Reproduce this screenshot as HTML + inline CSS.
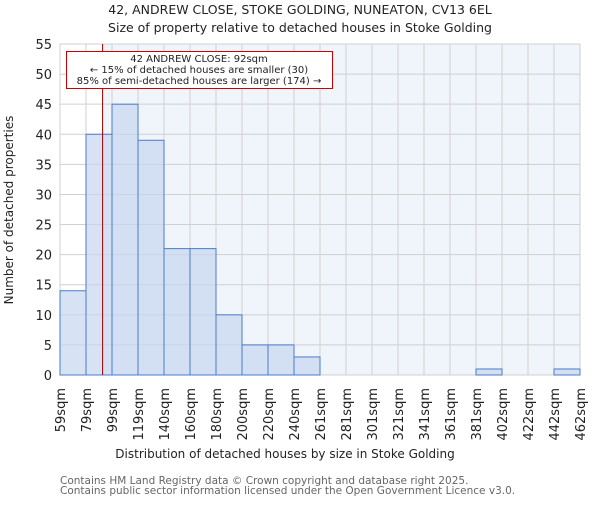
<!DOCTYPE html>
<html><head><meta charset="utf-8"><style>
body{margin:0;background:#fff;}
svg text{font-family:"DejaVu Sans","Liberation Sans",sans-serif;fill:#222;}
</style></head><body>
<svg id="chart" width="600" height="500" xmlns="http://www.w3.org/2000/svg">
<text x="300" y="14" text-anchor="middle" font-size="12.5">42, ANDREW CLOSE, STOKE GOLDING, NUNEATON, CV13 6EL</text>
<text x="300" y="32" text-anchor="middle" font-size="12.5">Size of property relative to detached houses in Stoke Golding</text>
<g id="plot"></g>
<text x="285" y="458" text-anchor="middle" font-size="12">Distribution of detached houses by size in Stoke Golding</text>
<text transform="translate(13,210) rotate(-90)" text-anchor="middle" font-size="12">Number of detached properties</text>
<text x="60" y="484" font-size="10.5" style="fill:#666">Contains HM Land Registry data © Crown copyright and database right 2025.</text>
<text x="60" y="494" font-size="10.5" style="fill:#666">Contains public sector information licensed under the Open Government Licence v3.0.</text>
</svg>
<script>
const binLabels=["59sqm","79sqm","99sqm","119sqm","140sqm","160sqm","180sqm","200sqm","220sqm","240sqm","261sqm","281sqm","301sqm","321sqm","341sqm","361sqm","381sqm","402sqm","422sqm","442sqm","462sqm"];
const counts=[14,40,45,39,21,21,10,5,5,3,0,0,0,0,0,0,1,0,0,1];
const yTicks=[0,5,10,15,20,25,30,35,40,45,50,55];
const propertySize=92;
const binStart=59, binWidth=20.15;
const X0=60,X1=580,Y0=375,Y1=44,YMAX=55;
const xi=i=>X0+(X1-X0)*i/counts.length;
const xv=v=>xi((v-binStart)/binWidth);
const y=v=>Y0-(Y0-Y1)*v/YMAX;
const g=document.getElementById('plot');
const NS='http://www.w3.org/2000/svg';
function mk(t,a){const e=document.createElementNS(NS,t);for(const k in a)e.setAttribute(k,a[k]);g.appendChild(e);return e;}
const px=xv(propertySize);
let e=mk('rect',{x:px,y:Y1,width:X1-px,height:Y0-Y1,fill:'#f0f4fb'});


yTicks.forEach(t=>{
 let l=mk('line',{x1:X0,x2:X1,y1:y(t),y2:y(t),stroke:'#d0d0d0','stroke-width':1});
 
 
 let tx=mk('text',{x:X0-8,y:y(t)+5,'text-anchor':'end','font-size':13});
 tx.textContent=t;
 
 
});
binLabels.forEach((lab,i)=>{
 let l=mk('line',{x1:xi(i),x2:xi(i),y1:Y1,y2:Y0,stroke:'#d0d0d0','stroke-width':1});
 
 
 let tx=mk('text',{transform:`translate(${xi(i)+5},${Y0+13}) rotate(-90)`,'text-anchor':'end','font-size':13});
 tx.textContent=lab;
 
 
});
counts.forEach((c,i)=>{
 if(c<=0)return;
 let r=mk('rect',{x:xi(i),y:y(c),width:xi(i+1)-xi(i),height:Y0-y(c),fill:'#c6d6f0','fill-opacity':0.7,stroke:'#4a7cc9','stroke-width':1});
 
 
});
e=mk('line',{x1:px,x2:px,y1:Y1,y2:Y0,stroke:'#a00000','stroke-width':1});


e=mk('rect',{x:66.5,y:51.5,width:266,height:37,fill:'#fff',stroke:'#cc0000','stroke-width':1});


["42 ANDREW CLOSE: 92sqm","← 15% of detached houses are smaller (30)","85% of semi-detached houses are larger (174) →"].forEach((s,i)=>{
 let t=mk('text',{x:199,y:62+i*11,'text-anchor':'middle','font-size':10});
 t.textContent=s;
 
 
});
</script>
</body></html>
